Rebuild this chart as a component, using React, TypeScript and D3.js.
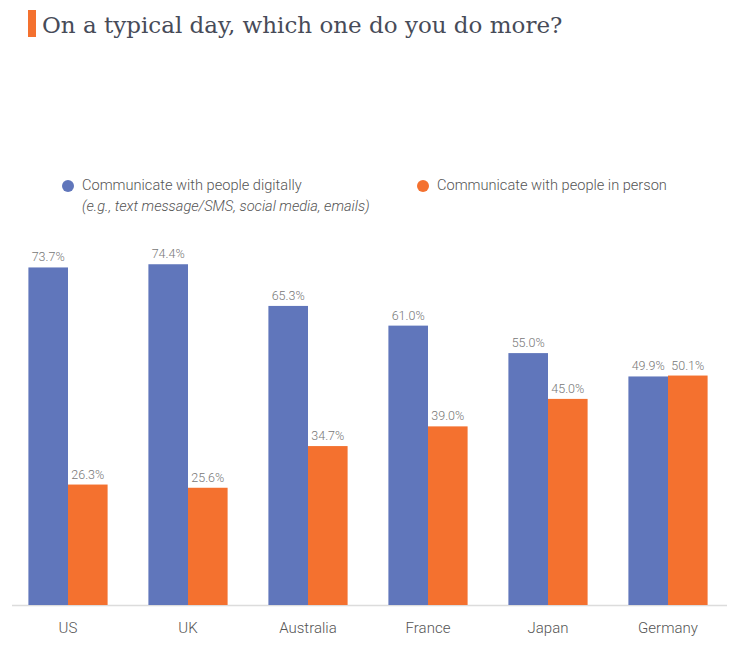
import React from "react";
import * as d3 from "d3";

const countries = ["US", "UK", "Australia", "France", "Japan", "Germany"];
const digital = [73.7, 74.4, 65.3, 61.0, 55.0, 49.9];
const inPerson = [26.3, 25.6, 34.7, 39.0, 45.0, 50.1];
const seriesNames = ["Communicate with people digitally", "Communicate with people in person"];
const seriesNote = "(e.g., text message/SMS, social media, emails)";
const title = "On a typical day, which one do you do more?";

const BLUE = "#6076bb";
const ORANGE = "#f4712f";

export default function App() {
  const W = 750, H = 656;
  const baseY = 605;
  const x = d3.scaleBand<string>().domain(countries).range([8, 728]).paddingInner(0.34).paddingOuter(0.17);
  const sub = d3.scaleBand<number>().domain([0, 1]).range([0, x.bandwidth()]);
  const y = d3.scaleLinear().domain([0, 100]).range([baseY, 147]);
  const series = [digital, inPerson];
  const colors = [BLUE, ORANGE];
  const font = "Roboto, 'Noto Sans', sans-serif";

  return (
    <svg width={W} height={H} style={{ position: "absolute", left: 0, top: 0, background: "#fff" }}>
      <rect x={28} y={10} width={8} height={27} fill={ORANGE} />
      <text x={42} y={33} fontFamily="'DejaVu Serif', serif" fontSize={23} fill="#474b58" fontWeight={300}>
        {title}
      </text>

      <circle cx={68} cy={186} r={6} fill={BLUE} />
      <text x={82} y={190} fontFamily={font} fontSize={14.6} fill="#555" fontWeight={300}>{seriesNames[0]}</text>
      <text x={82} y={211} fontFamily={font} fontSize={14.6} fill="#555" fontWeight={300} fontStyle="italic">{seriesNote}</text>
      <circle cx={423} cy={186} r={6} fill={ORANGE} />
      <text x={437} y={190} fontFamily={font} fontSize={14.6} fill="#555" fontWeight={300}>{seriesNames[1]}</text>

      <line x1={12} x2={727} y1={baseY + 0.5} y2={baseY + 0.5} stroke="#dcdcdc" strokeWidth={1.5} />

      {countries.map((c, i) => (
        <g key={c}>
          {series.map((s, k) => {
            const bx = (x(c) as number) + (sub(k) as number);
            const by = y(s[i]);
            return (
              <g key={k}>
                <rect x={bx} y={by} width={sub.bandwidth()} height={baseY - by} fill={colors[k]} />
                <text x={bx + sub.bandwidth() / 2} y={by - 6} textAnchor="middle" fontFamily={font} fontSize={12.5} fontWeight={300} fill="#777">
                  {s[i].toFixed(1)}%
                </text>
              </g>
            );
          })}
          <text x={(x(c) as number) + x.bandwidth() / 2} y={633} textAnchor="middle" fontFamily={font} fontSize={15} fontWeight={300} fill="#555">
            {c}
          </text>
        </g>
      ))}
    </svg>
  );
}
